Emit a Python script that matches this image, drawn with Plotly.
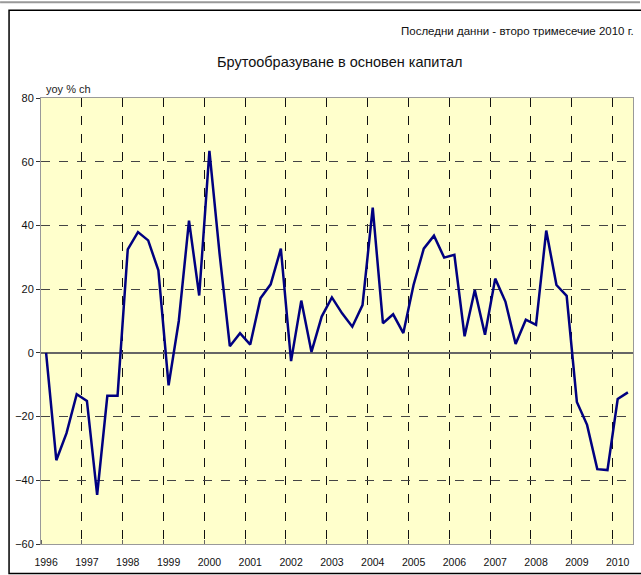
import plotly.graph_objects as go

years = [str(y) for y in range(1996, 2011)]
quarters = [f"{y} Q{q}" for y in range(1996, 2011) for q in range(1, 5)][:58]
values = [0.0, -33.7, -25.2, -13.0, -15.1, -44.6, -13.5, -13.5,
          32.5, 37.9, 35.3, 25.9, -10.2, 10.0, 41.5, 18.0,
          63.4, 31.0, 2.1, 6.2, 2.6, 17.1, 21.5, 32.7,
          -2.6, 16.4, 0.3, 11.4, 17.4, 12.4, 8.2, 15.0,
          45.6, 9.3, 12.1, 6.2, 21.3, 32.7, 36.8, 29.9,
          30.8, 5.2, 19.7, 5.7, 23.3, 16.1, 2.8, 10.4,
          8.8, 38.4, 21.3, 17.9, -15.4, -22.6, -36.5, -36.8,
          -14.5, -12.4]
y_ticks = [-60, -40, -20, 0, 20, 40, 60, 80]

idx = list(range(len(values)))
font = "Liberation Sans, Arial, sans-serif"

fig = go.Figure()
fig.add_trace(go.Scatter(x=idx, y=values, mode="lines",
                         line=dict(color="#000080", width=2.5),
                         text=quarters, hoverinfo="text+y"))

W, H = 641, 575
L, R, T, B = 41, 7, 98, 25
pw, ph = W - L - R, H - T - B

fig.update_layout(
    width=W, height=H,
    margin=dict(l=L, r=R, t=T, b=B),
    paper_bgcolor="white", plot_bgcolor="#FFFFCC",
    showlegend=False,
    font=dict(family=font, size=11, color="#222"),
    xaxis=dict(range=[-0.5, len(values) - 0.5],
               tickmode="array", tickvals=idx[::4], ticktext=years,
               showgrid=False, zeroline=False, ticks="",
               tickfont=dict(size=10.5, color="#111"), ticklabelstandoff=8,
               showline=True, linecolor="#999", mirror=True,
               minor=dict(tick0=3.5, dtick=4, showgrid=True,
                          gridcolor="#111", griddash="dash", gridwidth=1,
                          ticks="inside", ticklen=4, tickcolor="#666")),
    yaxis=dict(range=[-60, 80], tickmode="array", tickvals=y_ticks,
               showgrid=True, gridcolor="#444", griddash="dash", gridwidth=1,
               zeroline=True, zerolinecolor="#666", zerolinewidth=2,
               ticks="outside", ticklen=4, tickcolor="#333",
               showline=True, linecolor="#999", mirror=True,
               tickfont=dict(size=11, color="#111")),
    annotations=[
        dict(text="Брутообразуване в основен капитал", xref="paper", yref="paper",
             x=(340 - L) / pw, y=1 + (98 - 62) / ph, showarrow=False,
             font=dict(size=14.5, family=font, color="#111"), xanchor="center", yanchor="middle"),
        dict(text="Последни данни - второ тримесечие 2010 г.", xref="paper", yref="paper",
             x=(637 - L) / pw, y=1 + (98 - 30) / ph, showarrow=False,
             font=dict(size=11.5, family=font, color="#111"), xanchor="right", yanchor="middle"),
        dict(text="yoy % ch", xref="paper", yref="paper",
             x=(44 - L) / pw, y=1 + (98 - 89) / ph, showarrow=False,
             font=dict(size=11, family=font, color="#222"), xanchor="left", yanchor="middle"),
    ],
    shapes=[
        dict(type="rect", xref="paper", yref="paper",
             x0=(9 - L) / pw, x1=(W + 5 - L) / pw,
             y0=-(B + 5) / ph, y1=1 + (T - 9) / ph,
             line=dict(color="black", width=1.5), layer="below"),
        dict(type="line", xref="paper", yref="paper",
             x0=-L / pw, x1=(W - L) / pw, y0=1 + (T - 1) / ph, y1=1 + (T - 1) / ph,
             line=dict(color="#999", width=2)),
    ],
)

fig.write_html("out.html", config={"displayModeBar": False},
               post_script=("document.documentElement.style.margin='0';"
                            "document.documentElement.style.overflow='hidden';"
                            "document.body.style.margin='0';document.body.style.padding='0';"
                            "document.body.style.overflow='hidden';"))
